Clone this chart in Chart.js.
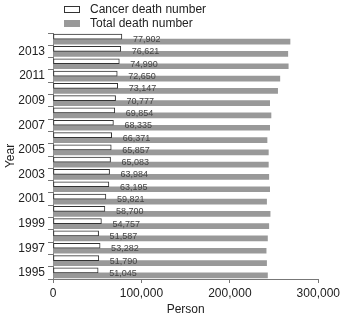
<!DOCTYPE html>
<html>
<head>
<meta charset="utf-8">
<script src="https://cdn.jsdelivr.net/npm/chart.js@4"></script>
<style>
  html, body { margin: 0; padding: 0; background: #fff; overflow: hidden; }
  #wrap { position: relative; width: 341px; height: 317px; overflow: hidden; }
  #chart { position: absolute; left: 0; top: 0; }
  .legend { position: absolute; left: 64px; font: 12px "Liberation Sans", Arial, sans-serif; color: #222; }
  .legend .box { position: absolute; left: 0; width: 16px; height: 7px; box-sizing: border-box; }
  .legend .txt { position: absolute; left: 26px; top: -4px; line-height: 14px; white-space: nowrap; }
</style>
</head>
<body>
<div id="wrap">
  <canvas id="chart" width="343" height="317"></canvas>
  <div class="legend" style="top:6px"><div class="box" style="border:1px solid #333;background:#fff"></div><span class="txt">Cancer death number</span></div>
  <div class="legend" style="top:20px"><div class="box" style="background:#999"></div><span class="txt">Total death number</span></div>
</div>
<script>
const years = ['1995', '1996', '1997', '1998', '1999', '2000', '2001', '2002', '2003', '2004',
               '2005', '2006', '2007', '2008', '2009', '2010', '2011', '2012', '2013', '2014'];
const cancerDeaths = [51045, 51790, 53282, 51587, 54757, 58700, 59821, 63195, 63984, 65083,
                      65857, 66371, 68335, 69854, 70777, 73147, 72650, 74990, 76621, 77902];
const totalDeaths = [242500, 241500, 241000, 242500, 244000, 245500, 241500, 245000, 244000, 243500,
                     243500, 242000, 245000, 246500, 245000, 254000, 256500, 266000, 265500, 268000];
const xTicks = [0, 100000, 200000, 300000];

const fontFamily = '"Liberation Sans", Arial, sans-serif';

// value labels next to the cancer bars
const valueLabels = {
    id: 'valueLabels',
    afterDatasetsDraw(chart) {
        const ctx = chart.ctx;
        const meta = chart.getDatasetMeta(0);
        ctx.save();
        ctx.font = '9px ' + fontFamily;
        ctx.fillStyle = '#444';
        ctx.textAlign = 'left';
        ctx.textBaseline = 'middle';
        meta.data.forEach((bar, i) => {
            const label = cancerDeaths[i].toLocaleString('en-US');
            ctx.fillText(label, bar.x + 11, bar.y + bar.height / 2 + 0.5);
        });
        ctx.restore();
    }
};

new Chart(document.getElementById('chart'), {
    type: 'bar',
    data: {
        labels: years,
        datasets: [
            {
                label: 'Cancer death number',
                data: cancerDeaths,
                backgroundColor: '#fff',
                borderColor: '#333',
                borderWidth: 1,
                borderSkipped: false,
                barThickness: 5
            },
            {
                label: 'Total death number',
                data: totalDeaths,
                backgroundColor: '#999',
                borderWidth: 0,
                barThickness: 5
            }
        ]
    },
    options: {
        indexAxis: 'y',
        responsive: false,
        animation: false,
        events: [],
        layout: { padding: { top: 33, left: 0, right: 0, bottom: 0 } },
        plugins: {
            legend: { display: false },
            tooltip: { enabled: false }
        },
        scales: {
            x: {
                min: xTicks[0],
                max: xTicks[xTicks.length - 1],
                afterBuildTicks: s => { s.ticks = xTicks.map(v => ({ value: v })); },
                afterFit: s => { s.height = 38; },
                border: { color: '#777', width: 1 },
                grid: { drawOnChartArea: false, tickLength: 4, color: '#777' },
                ticks: {
                    padding: 3,
                    color: '#222',
                    font: { family: fontFamily, size: 12 },
                    maxRotation: 0,
                    callback: v => v.toLocaleString('en-US')
                },
                title: {
                    display: true,
                    text: 'Person',
                    color: '#222',
                    font: { family: fontFamily, size: 12 },
                    padding: { top: 4, bottom: 0 }
                }
            },
            y: {
                reverse: true,
                afterFit: s => { s.width = 53; },
                border: { color: '#777', width: 1 },
                grid: { drawOnChartArea: false, tickLength: 5, color: '#777', offset: true },
                ticks: {
                    autoSkip: false,
                    padding: 3,
                    color: '#222',
                    font: { family: fontFamily, size: 12 },
                    callback: function (v) {
                        const y = Number(this.getLabelForValue(v));
                        return (y - 1995) % 2 === 0 ? String(y) : '';
                    }
                },
                title: {
                    display: true,
                    text: 'Year',
                    color: '#222',
                    font: { family: fontFamily, size: 12 },
                    padding: { top: 3, bottom: 0 }
                }
            }
        }
    },
    plugins: [valueLabels]
});
</script>
</body>
</html>
